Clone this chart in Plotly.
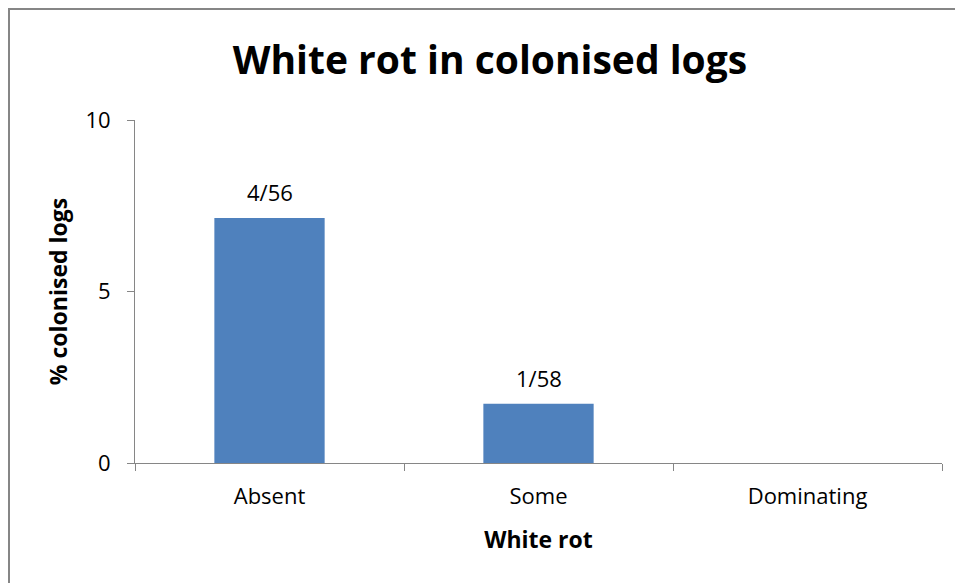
import plotly.graph_objects as go

categories = ["Absent", "Some", "Dominating"]
values = [4/56*100, 1/58*100, 0.0]
labels = ["4/56", "1/58", ""]
y_ticks = [0, 5, 10]

FONT = "Open Sans"
AX = "#868686"

# page body has an 8px margin; plot area targeted at screen x 135..942, y 120..463
L, T, W, H = 127, 112, 807, 343

fig = go.Figure()
fig.add_trace(go.Bar(
    x=categories, y=values,
    marker=dict(color="#4F81BD", line=dict(width=0)),
    width=0.41,
))

for c, v, t in zip(categories, values, labels):
    if t:
        fig.add_annotation(x=c, y=v, text=t, showarrow=False, xanchor="center",
                           yanchor="bottom", yshift=9,
                           font=dict(family=FONT, size=22, color="black"))

fig.update_layout(
    width=963, height=583,
    margin=dict(l=L, r=963 - L - W, t=T, b=583 - T - H),
    paper_bgcolor="white", plot_bgcolor="white",
    showlegend=False,
    title=dict(text="<b>White rot in colonised logs</b>", x=482 / 963, xanchor="center",
               xref="container", y=1 - 52 / 583, yanchor="middle", yref="container",
               font=dict(family=FONT, size=39, color="black")),
    xaxis=dict(type="category", tickson="boundaries", ticks="outside", ticklen=7,
               tickcolor=AX, showline=True, linecolor=AX, linewidth=1,
               tickfont=dict(family=FONT, size=22, color="black"),
               ticklabelstandoff=14,
               title=dict(text="<b>White rot</b>", font=dict(family=FONT, size=23, color="black"),
                          standoff=22),
               showgrid=False),
    yaxis=dict(range=[0, 10], tickvals=y_ticks, ticks="outside", ticklen=7,
               tickcolor=AX, showline=True, linecolor=AX, linewidth=1,
               tickfont=dict(family=FONT, size=22, color="black"),
               ticklabelstandoff=12,
               title=dict(text="<b>% colonised logs</b>", font=dict(family=FONT, size=23, color="black"),
                          standoff=11),
               showgrid=False, zeroline=False),
)

fig.add_shape(type="rect", xref="paper", yref="paper",
              x0=(1 - L) / W, x1=(963 - L + 20) / W, y0=-(583 - T - H + 20) / H, y1=(H + T - 1) / H,
              line=dict(color="#868686", width=2), fillcolor="rgba(0,0,0,0)", layer="below")

fig.write_html("out.html")
